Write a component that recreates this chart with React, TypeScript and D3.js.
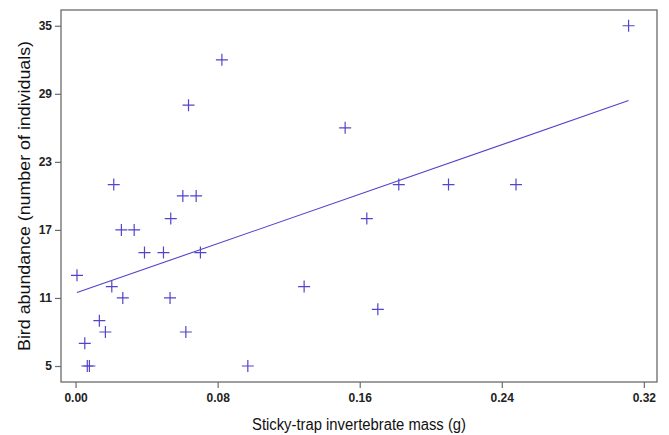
import React, { useEffect, useRef } from 'react';
import * as d3 from 'd3';

// invertebrate mass (g) and bird abundance for each site
const massValues = [
  0.0008, 0.0052, 0.0066, 0.0078, 0.0134, 0.0168, 0.0204, 0.0215, 0.0258, 0.0266,
  0.033, 0.0388, 0.0495, 0.0532, 0.0536, 0.0604, 0.0621, 0.0636, 0.0679, 0.0703,
  0.0824, 0.097, 0.1287, 0.1518, 0.164, 0.1702, 0.182, 0.21, 0.248, 0.3114,
];
const birdValues = [
  13, 7, 5, 5, 9, 8, 12, 21, 17, 11,
  17, 15, 15, 11, 18, 20, 8, 28, 20, 15,
  32, 5, 12, 26, 18, 10, 21, 21, 21, 35,
];

// fitted regression line
const fitIntercept = 11.43;
const fitSlope = 54.5;

const xTicks = [0, 0.08, 0.16, 0.24, 0.32];
const yTicks = [5, 11, 17, 23, 29, 35];

const xTitle = 'Sticky-trap invertebrate mass (g)';
const yTitle = 'Bird abundance (number of individuals)';

const W = 669,
  H = 435;
const margin = { top: 10, right: 12, bottom: 53, left: 61 };

const App = () => {
  const ref = useRef<SVGSVGElement>(null);

  useEffect(() => {
    const svg = d3.select(ref.current);
    svg.selectAll('*').remove();

    const x = d3.scaleLinear().domain([-0.0082, 0.3274]).range([margin.left, W - margin.right]);
    const y = d3.scaleLinear().domain([3.59, 36.39]).range([H - margin.bottom, margin.top]);

    const font = '"Liberation Sans", Arial, sans-serif';
    const frameCol = '#6b6b6b';
    const markCol = '#5244cc';
    const midX = (margin.left + W - margin.right) / 2;
    const midY = (margin.top + H - margin.bottom) / 2;

    // frame
    svg.append('rect')
      .attr('x', margin.left)
      .attr('y', margin.top)
      .attr('width', W - margin.left - margin.right)
      .attr('height', H - margin.top - margin.bottom)
      .attr('fill', 'none')
      .attr('stroke', frameCol)
      .attr('stroke-width', 1.3);

    // axes
    const xAxis = svg.append('g')
      .attr('transform', `translate(0,${H - margin.bottom})`)
      .call(d3.axisBottom(x).tickValues(xTicks).tickFormat(d3.format('.2f')).tickSize(6).tickPadding(5));
    const yAxis = svg.append('g')
      .attr('transform', `translate(${margin.left},0)`)
      .call(d3.axisLeft(y).tickValues(yTicks).tickSize(6).tickPadding(3));

    [xAxis, yAxis].forEach((g) => {
      g.select('.domain').remove();
      g.selectAll('line').attr('stroke', frameCol).attr('stroke-width', 1.2);
      g.selectAll('text')
        .attr('fill', '#222')
        .style('font-family', font)
        .style('font-size', '12px')
        .style('font-weight', 'bold');
    });

    // regression line
    const xMin = d3.min(massValues) as number;
    const xMax = d3.max(massValues) as number;
    svg.append('line')
      .attr('x1', x(xMin))
      .attr('y1', y(fitIntercept + fitSlope * xMin))
      .attr('x2', x(xMax))
      .attr('y2', y(fitIntercept + fitSlope * xMax))
      .attr('stroke', markCol)
      .attr('stroke-width', 1.1);

    // crosses
    const s = 6;
    svg.append('g')
      .selectAll('path')
      .data(massValues.map((m, i) => [m, birdValues[i]]))
      .enter()
      .append('path')
      .attr('d', (d) => {
        const cx = x(d[0]),
          cy = y(d[1]);
        return `M${cx - s},${cy}H${cx + s}M${cx},${cy - s}V${cy + s}`;
      })
      .attr('stroke', markCol)
      .attr('stroke-width', 1.2)
      .attr('fill', 'none');

    // titles
    svg.append('text')
      .attr('x', midX)
      .attr('y', 430)
      .attr('text-anchor', 'middle')
      .attr('textLength', 214)
      .attr('lengthAdjust', 'spacingAndGlyphs')
      .style('font-family', font)
      .style('font-size', '16px')
      .attr('fill', '#111')
      .text(xTitle);

    svg.append('text')
      .attr('transform', `translate(30,${midY}) rotate(-90)`)
      .attr('text-anchor', 'middle')
      .attr('textLength', 310)
      .attr('lengthAdjust', 'spacingAndGlyphs')
      .style('font-family', font)
      .style('font-size', '17px')
      .attr('fill', '#111')
      .text(yTitle);
  }, []);

  return (
    <svg
      ref={ref}
      width={W}
      height={H}
      style={{ position: 'absolute', left: 0, top: 0, background: '#fff' }}
    />
  );
};

export default App;
